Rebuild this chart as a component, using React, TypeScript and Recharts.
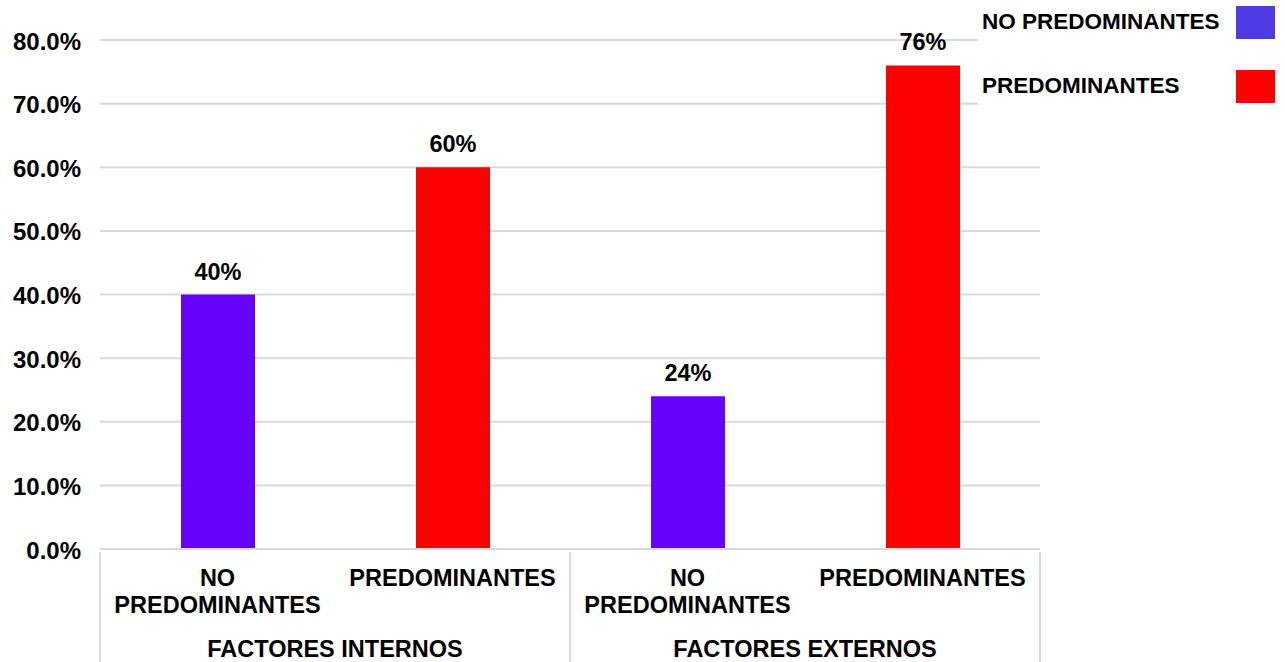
import { BarChart, Bar, XAxis, YAxis, CartesianGrid, LabelList, Cell } from 'recharts';

const categories = ['NO PREDOMINANTES', 'PREDOMINANTES', 'NO PREDOMINANTES', 'PREDOMINANTES'];
const groups = ['FACTORES INTERNOS', 'FACTORES INTERNOS', 'FACTORES EXTERNOS', 'FACTORES EXTERNOS'];
const percents = [40, 60, 24, 76];
const yTicks = [0, 10, 20, 30, 40, 50, 60, 70, 80];

const BAR_COLORS: Record<string, string> = {
  'NO PREDOMINANTES': '#6600ff',
  PREDOMINANTES: '#ff0000',
};

const legendItems = [
  { label: 'NO PREDOMINANTES', color: '#4f3be5' },
  { label: 'PREDOMINANTES', color: '#ff0000' },
];

const data = categories.map((cat, i) => ({ cat, group: groups[i], value: percents[i] }));

const FONT = '"Liberation Sans", Arial, sans-serif';
const FS = 23.5;
const GRID = '#d9d9d9';

function CategoryTick(props: any) {
  const { x, y, payload } = props;
  const words: string[] = payload.value.split(' ');
  const lines = words.length > 1 ? [words[0], words.slice(1).join(' ')] : words;
  return (
    <text x={x} y={y + 29} textAnchor="middle" fontFamily={FONT} fontSize={FS} fontWeight="bold" fill="#000">
      {lines.map((l, i) => (
        <tspan key={i} x={x} dy={i === 0 ? 0 : 27}>
          {l}
        </tspan>
      ))}
    </text>
  );
}

function GroupTick(props: any) {
  const { x, y, payload, index, visibleTicksCount } = props;
  const half = payload.offset ?? 235;
  const isLast = index === visibleTicksCount - 1;
  return (
    <g>
      <line x1={x - half} x2={x - half} y1={y - 80} y2={y + 40} stroke={GRID} strokeWidth={2} />
      {isLast && <line x1={x + half} x2={x + half} y1={y - 80} y2={y + 40} stroke={GRID} strokeWidth={2} />}
      <text x={x} y={y + 25} textAnchor="middle" fontFamily={FONT} fontSize={FS} fontWeight="bold" fill="#000">
        {payload.value}
      </text>
    </g>
  );
}

export default function App() {
  return (
    <div style={{ position: 'fixed', left: 0, top: 0, width: 1285, height: 662, background: '#fff' }}>
      <BarChart width={1285} height={662} data={data} margin={{ top: 40, right: 245, left: 0, bottom: 0 }}>
        <CartesianGrid vertical={false} stroke={GRID} strokeWidth={2} />
        <XAxis
          dataKey="cat"
          xAxisId={0}
          height={75}
          tickLine={false}
          axisLine={{ stroke: GRID, strokeWidth: 2 }}
          tick={<CategoryTick />}
          interval={0}
        />
        <XAxis
          dataKey="group"
          xAxisId="group"
          allowDuplicatedCategory={false}
          height={38}
          tickLine={false}
          axisLine={false}
          tick={<GroupTick />}
          interval={0}
        />
        <YAxis
          width={100}
          domain={[0, 80]}
          ticks={yTicks}
          interval={0}
          tickLine={false}
          axisLine={false}
          tickMargin={13}
          tickFormatter={(v: number) => `${v.toFixed(1)}%`}
          tick={{ fill: '#000', fontSize: 24, fontWeight: 'bold', fontFamily: FONT, dy: 1 }}
        />
        <Bar dataKey="value" barSize={74} isAnimationActive={false}>
          {data.map((d, i) => (
            <Cell key={i} fill={BAR_COLORS[d.cat]} />
          ))}
          <LabelList
            dataKey="value"
            position="top"
            offset={15}
            formatter={(v: any) => `${v}%`}
            style={{ fill: '#000', fontSize: FS, fontWeight: 'bold', fontFamily: FONT }}
          />
        </Bar>
      </BarChart>
      {/* legend box sits over the top-right of the grid */}
      <div style={{ position: 'absolute', left: 978, top: 0, width: 307, height: 110, background: '#fff', fontFamily: FONT }}>
        {legendItems.map((it, i) => (
          <div key={it.label} style={{ position: 'absolute', left: 0, top: 6 + i * 64, width: 307, height: 33 }}>
            <span style={{ position: 'absolute', left: 4, top: 3, fontSize: 22.5, fontWeight: 'bold', color: '#000', whiteSpace: 'nowrap' }}>
              {it.label}
            </span>
            <span style={{ position: 'absolute', left: 258, top: 0, width: 39, height: 33, background: it.color }} />
          </div>
        ))}
      </div>
    </div>
  );
}
